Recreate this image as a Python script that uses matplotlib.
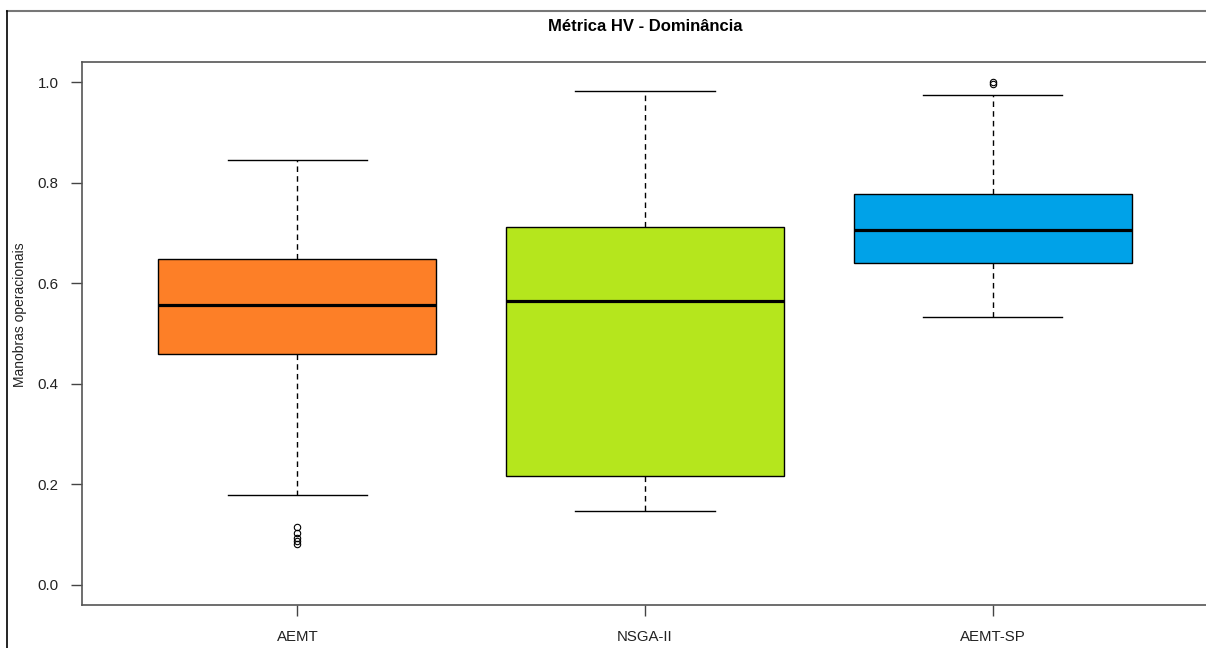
import matplotlib.pyplot as plt
from matplotlib.lines import Line2D

plt.rcParams['font.family'] = ['Liberation Sans', 'DejaVu Sans']

# resumo das distribuições do HV por algoritmo
algoritmos = ['AEMT', 'NSGA-II', 'AEMT-SP']
whis_inf = [0.179, 0.147, 0.532]
q1 = [0.460, 0.216, 0.641]
mediana = [0.556, 0.564, 0.705]
q3 = [0.649, 0.711, 0.777]
whis_sup = [0.846, 0.982, 0.974]
outliers = [
    [0.116, 0.104, 0.094, 0.088, 0.082],
    [],
    [1.000, 0.996],
]
cores = ['#fd7f27', '#b5e61d', '#00a2e8']

stats = []
for i, nome in enumerate(algoritmos):
    stats.append({
        'label': nome,
        'whislo': whis_inf[i],
        'q1': q1[i],
        'med': mediana[i],
        'q3': q3[i],
        'whishi': whis_sup[i],
        'fliers': outliers[i],
    })

fig = plt.figure(figsize=(12.06, 6.48), dpi=100)
ax = fig.add_axes([82 / 1206, 43 / 648, 1126 / 1206, 543 / 648])

bp = ax.bxp(stats, positions=[1, 2, 3], widths=0.8, patch_artist=True,
            boxprops=dict(edgecolor='black', linewidth=1.0),
            medianprops=dict(color='black', linewidth=2.3, solid_capstyle='butt'),
            whiskerprops=dict(color='black', linewidth=1.0, linestyle=(0, (4, 3))),
            capprops=dict(color='black', linewidth=1.0),
            capwidths=0.4,
            flierprops=dict(marker='o', markerfacecolor='none', markeredgecolor='black',
                            markersize=4.6, markeredgewidth=0.8))
for caixa, cor in zip(bp['boxes'], cores):
    caixa.set_facecolor(cor)

ax.set_xlim(0.38, 3.62)
ax.set_ylim(-0.04, 1.04)
ax.set_yticks([0.0, 0.2, 0.4, 0.6, 0.8, 1.0])
ax.set_yticklabels(['0.0', '0.2', '0.4', '0.6', '0.8', '1.0'])
ax.set_xticks([1, 2, 3])
ax.set_xticklabels(algoritmos)
ax.tick_params(axis='both', direction='out', length=8, width=1.0, colors='#444444',
               labelcolor='#222222', labelsize=10.8, pad=9)
ax.tick_params(axis='x', pad=10)
for lado in ax.spines.values():
    lado.set_color('#555555')
    lado.set_linewidth(1.2)

ax.set_title('Métrica HV - Dominância', fontsize=12, fontweight='bold', pad=22)
fig.text(20 / 1206, 1 - 315 / 648, 'Manobras operacionais', rotation=90,
         ha='center', va='center', fontsize=10, color='#222222')

# moldura externa da janela
fig.add_artist(Line2D([7 / 1206, 1], [1 - 11 / 648, 1 - 11 / 648],
                      transform=fig.transFigure, color='#777777', linewidth=1.5))
fig.add_artist(Line2D([7 / 1206, 7 / 1206], [0, 1 - 11 / 648],
                      transform=fig.transFigure, color='black', linewidth=1.2))

fig.savefig('out.png', dpi=100)
